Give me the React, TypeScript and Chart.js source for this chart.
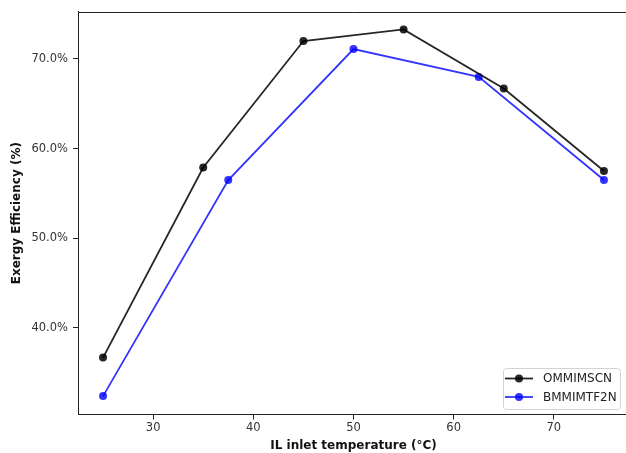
import React, { useEffect, useRef } from "react";
import { Chart, registerables } from "chart.js";

Chart.register(...registerables);

const ommimX = [25, 35, 45, 55, 65, 75];
const ommimY = [36.7, 57.9, 72.0, 73.3, 66.7, 57.5];
const bmmimX = [25, 37.5, 50, 62.5, 75];
const bmmimY = [32.4, 56.5, 71.1, 68.0, 56.5];
const xTicks = [30, 40, 50, 60, 70];
const yTicks = [40, 50, 60, 70];
const seriesNames = ["OMMIMSCN", "BMMIMTF2N"];
const seriesColors = ["rgba(0,0,0,0.85)", "rgba(0,0,255,0.8)"];

const FONT = "'DejaVu Sans', sans-serif";

const framePlugin = {
  id: "frame",
  afterDraw(chart: any) {
    const { ctx, chartArea } = chart;
    ctx.save();
    ctx.strokeStyle = "#222";
    ctx.lineWidth = 1;
    ctx.beginPath();
    ctx.moveTo(chartArea.left, Math.round(chartArea.top) + 0.5);
    ctx.lineTo(chartArea.right, Math.round(chartArea.top) + 0.5);
    ctx.stroke();

    // legend (lower right)
    const x0 = 503.5;
    const w = 117;
    const y0 = 368.5;
    const h = 41;
    ctx.beginPath();
    const r = 3;
    ctx.moveTo(x0 + r, y0);
    ctx.lineTo(x0 + w - r, y0);
    ctx.quadraticCurveTo(x0 + w, y0, x0 + w, y0 + r);
    ctx.lineTo(x0 + w, y0 + h - r);
    ctx.quadraticCurveTo(x0 + w, y0 + h, x0 + w - r, y0 + h);
    ctx.lineTo(x0 + r, y0 + h);
    ctx.quadraticCurveTo(x0, y0 + h, x0, y0 + h - r);
    ctx.lineTo(x0, y0 + r);
    ctx.quadraticCurveTo(x0, y0, x0 + r, y0);
    ctx.closePath();
    ctx.fillStyle = "rgba(255,255,255,0.9)";
    ctx.fill();
    ctx.strokeStyle = "#d4d4d4";
    ctx.stroke();
    seriesNames.forEach((name, i) => {
      const cy = 378.5 + i * 18.5;
      ctx.strokeStyle = seriesColors[i];
      ctx.lineWidth = 1.8;
      ctx.beginPath();
      ctx.moveTo(505, cy);
      ctx.lineTo(533, cy);
      ctx.stroke();
      ctx.fillStyle = seriesColors[i];
      ctx.beginPath();
      ctx.arc(519, cy, 4, 0, Math.PI * 2);
      ctx.fill();
      ctx.fillStyle = "#222";
      ctx.font = `12px ${FONT}`;
      ctx.textBaseline = "middle";
      ctx.textAlign = "left";
      ctx.fillText(name, 543, cy + 0.5);
    });
    ctx.restore();
  },
};

export default function App() {
  const ref = useRef<HTMLCanvasElement | null>(null);
  useEffect(() => {
    if (!ref.current) return;
    const chart = new Chart(ref.current, {
      type: "line",
      data: {
        datasets: [
          {
            label: seriesNames[0],
            data: ommimX.map((x, i) => ({ x, y: ommimY[i] })),
            borderColor: seriesColors[0],
            backgroundColor: seriesColors[0],
            pointBackgroundColor: seriesColors[0],
            pointBorderWidth: 0,
            pointRadius: 4,
            borderWidth: 1.8,
            tension: 0,
          },
          {
            label: seriesNames[1],
            data: bmmimX.map((x, i) => ({ x, y: bmmimY[i] })),
            borderColor: seriesColors[1],
            backgroundColor: seriesColors[1],
            pointBackgroundColor: seriesColors[1],
            pointBorderWidth: 0,
            pointRadius: 4,
            borderWidth: 1.8,
            tension: 0,
          },
        ],
      },
      options: {
        animation: false,
        responsive: false,
        maintainAspectRatio: false,
        layout: { padding: { left: 0, top: 11, right: 31, bottom: 0 } },
        plugins: {
          legend: { display: false },
          tooltip: { enabled: false },
        },
        scales: {
          x: {
            type: "linear",
            min: 22.5,
            max: 77.5,
            afterBuildTicks: (axis: any) => {
              axis.ticks = xTicks.map((v) => ({ value: v }));
            },
            afterFit: (axis: any) => {
              axis.height = 38.5;
            },
            grid: {
              drawOnChartArea: false,
              drawTicks: true,
              tickLength: 5,
              tickColor: "#222",
            },
            border: { color: "#222", width: 1 },
            ticks: {
              color: "#333",
              padding: 2,
              maxRotation: 0,
              font: { family: FONT, size: 11.5 },
              callback: (v: any) => String(v),
            },
            title: {
              display: true,
              text: "IL inlet temperature (°C)",
              color: "#111",
              font: { family: FONT, size: 12, weight: "bold" },
              padding: { top: 0, bottom: 0 },
            },
          },
          y: {
            type: "linear",
            min: 30.35,
            max: 75.25,
            afterBuildTicks: (axis: any) => {
              axis.ticks = yTicks.map((v) => ({ value: v }));
            },
            afterFit: (axis: any) => {
              axis.width = 78;
            },
            grid: {
              drawOnChartArea: false,
              drawTicks: true,
              tickLength: 5,
              tickColor: "#222",
            },
            border: { color: "#222", width: 1 },
            ticks: {
              color: "#333",
              padding: 5,
              font: { family: FONT, size: 11.5 },
              callback: (v: any) => Number(v).toFixed(1) + "%",
            },
            title: {
              display: true,
              text: "Exergy Efficiency (%)",
              color: "#111",
              font: { family: FONT, size: 12, weight: "bold" },
              padding: { top: 10, bottom: 0 },
            },
          },
        },
      },
      plugins: [framePlugin],
    });
    return () => chart.destroy();
  }, []);
  return (
    <div
      style={{
        position: "absolute",
        left: 0,
        top: 0,
        width: 626,
        height: 453,
        overflow: "hidden",
        background: "#fff",
      }}
    >
      <canvas ref={ref} width={660} height={453} style={{ display: "block", width: 660, height: 453 }} />
    </div>
  );
}
